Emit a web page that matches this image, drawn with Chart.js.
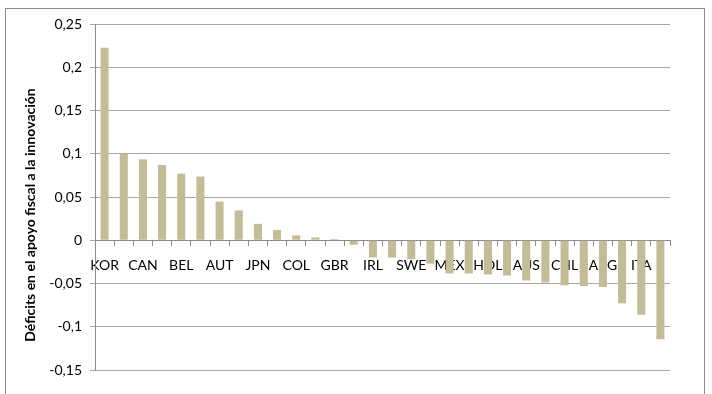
<!DOCTYPE html>
<html>
<head>
<meta charset="utf-8">
<script src="https://cdn.jsdelivr.net/npm/chart.js@4.4.0/dist/chart.umd.min.js"></script>
<style>
  html, body { margin: 0; padding: 0; background: #fff; }
  #wrap { position: relative; width: 712px; height: 394px; }
</style>
</head>
<body>
<div id="wrap"><canvas id="c" width="712" height="394"></canvas></div>
<script>
// Countries in descending order of the deficit; only every other one is labelled
const categories = ['KOR', '', 'CAN', '', 'BEL', '', 'AUT', '', 'JPN', '',
                    'COL', '', 'GBR', '', 'IRL', '', 'SWE', '', 'MEX', '',
                    'HOL', '', 'AUS', '', 'CHL', '', 'ARG', '', 'ITA', ''];
const deficits = [0.2225, 0.100, 0.0935, 0.087, 0.077, 0.0735, 0.0446, 0.0345, 0.019, 0.012,
                  0.0056, 0.0033, 0.0014, -0.0052, -0.0199, -0.0200, -0.0218, -0.0270, -0.0384, -0.0384,
                  -0.0395, -0.0407, -0.0465, -0.0488, -0.0520, -0.0530, -0.0540, -0.0730, -0.0862, -0.1144];
const yMin = -0.15;
const yMax = 0.25;
const yStep = 0.05;
const axisTitle = 'Déficits en el apoyo fiscal a la innovación';

const fmt = v => String(Number(v.toFixed(2))).replace('.', ',');

// Outer frame of the chart object
const framePlugin = {
  id: 'frame',
  beforeDraw(chart) {
    const ctx = chart.ctx;
    ctx.save();
    ctx.strokeStyle = '#8c8c8c';
    ctx.lineWidth = 1;
    ctx.strokeRect(5.5, 8.5, 699, 420);
    ctx.restore();
  }
};

// Rotated value-axis title
const titlePlugin = {
  id: 'yTitle',
  afterDraw(chart) {
    const ctx = chart.ctx;
    ctx.save();
    ctx.translate(30, 215);
    ctx.rotate(-Math.PI / 2);
    ctx.font = 'bold 14px Lato';
    ctx.fillStyle = '#000';
    ctx.textAlign = 'center';
    ctx.textBaseline = 'middle';
    ctx.fillText(axisTitle, 0, 0);
    ctx.restore();
  }
};

new Chart(document.getElementById('c'), {
  type: 'bar',
  data: {
    labels: categories,
    datasets: [{
      data: deficits,
      backgroundColor: '#c4bc96',
      borderWidth: 0,
      barPercentage: 0.42,
      categoryPercentage: 1.0
    }]
  },
  options: {
    responsive: false,
    animation: false,
    devicePixelRatio: 1,
    layout: { padding: { left: 0, right: 42, top: 24, bottom: 24 } },
    plugins: { legend: { display: false }, tooltip: { enabled: false } },
    scales: {
      x: {
        type: 'category',
        position: { y: 0 },
        z: 1,
        offset: true,
        grid: { offset: true, drawOnChartArea: false, drawTicks: true, tickLength: 5, color: '#8c8c8c' },
        border: { color: '#8c8c8c' },
        ticks: {
          autoSkip: false, maxRotation: 0, minRotation: 0,
          padding: 12,
          color: '#000',
          font: { family: 'Lato', size: 14 }
        }
      },
      y: {
        min: yMin,
        max: yMax,
        afterFit(scale) { scale.width = 95; },
        grid: { color: '#a8a8a8', tickLength: 5 },
        border: { color: '#8c8c8c' },
        ticks: {
          stepSize: yStep,
          padding: 8,
          color: '#000',
          font: { family: 'Lato', size: 14 },
          callback: v => fmt(v)
        }
      }
    }
  },
  plugins: [framePlugin, titlePlugin]
});
</script>
</body>
</html>
